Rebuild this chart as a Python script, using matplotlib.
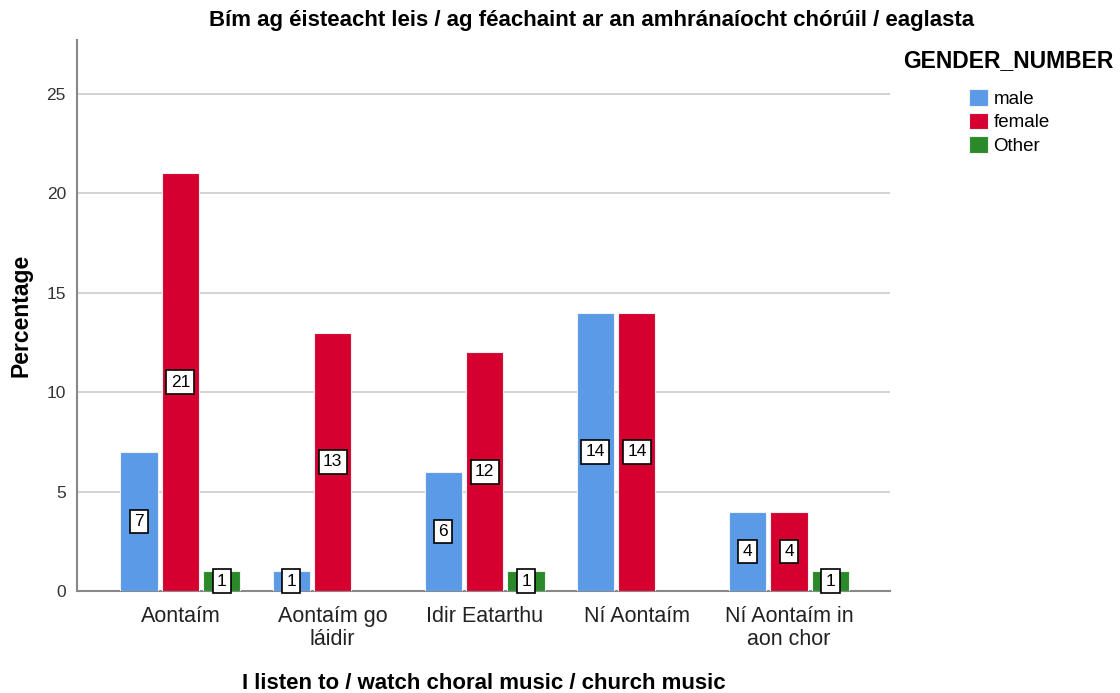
import numpy as np
import matplotlib
matplotlib.use('Agg')
import matplotlib.pyplot as plt

plt.rcParams['font.family'] = ['Liberation Sans', 'DejaVu Sans']

# Data
categories = ['Aontaím', 'Aontaím go\nláidir', 'Idir Eatarthu', 'Ní Aontaím', 'Ní Aontaím in\naon chor']
male = [7, 1, 6, 14, 4]
female = [21, 13, 12, 14, 4]
other = [1, 0, 1, 0, 1]
series_names = ['male', 'female', 'Other']
colors = ['#5a9ae6', '#d5002f', '#2a8a2a']

fig = plt.figure(figsize=(11.2, 6.93), dpi=100)
ax = fig.add_axes([0.06875, 0.147, 0.726, 0.795])

x = np.arange(len(categories))
width = 0.245
offsets = [-0.272, 0, 0.272]

handles = []
for vals, off, col, name in zip([male, female, other], offsets, colors, series_names):
    vals = np.array(vals, dtype=float)
    shown = np.where(vals > 0, vals, np.nan)
    bars = ax.bar(x + off, shown, width, color=col, edgecolor='#f0f0f0', linewidth=0.8, label=name, zorder=3)
    handles.append(bars)
    for xi, v in zip(x + off, vals):
        if v > 0:
            ax.text(xi, v / 2, f'{int(v)}', ha='center', va='center', fontsize=12.5, zorder=5,
                    bbox=dict(boxstyle='square,pad=0.25', facecolor='white', edgecolor='black', linewidth=1.2))

ax.set_xlim(-0.68, 4.665)
ax.set_ylim(0, 27.7)
ax.set_yticks([0, 5, 10, 15, 20, 25])
ax.yaxis.grid(True, color='#cccccc', linewidth=1.2, zorder=0)
ax.set_axisbelow(True)
ax.set_xticks(x)
ax.set_xticklabels(categories, fontsize=15.5, color='#222222', linespacing=1.1)
ax.tick_params(axis='both', length=0)
ax.tick_params(axis='y', labelsize=12.5, labelcolor='#333333', pad=8)
ax.tick_params(axis='x', pad=11)

for s in ['top', 'right']:
    ax.spines[s].set_visible(False)
for s in ['left', 'bottom']:
    ax.spines[s].set_color('#888888')
    ax.spines[s].set_linewidth(1.5)

fig.text(0.019, 0.545, 'Percentage', rotation=90, ha='center', va='center',
         fontsize=16.5, fontweight='bold')
fig.text(0.528, 0.971, 'Bím ag éisteacht leis / ag féachaint ar an amhránaíocht chórúil / eaglasta',
         ha='center', va='center', fontsize=16, fontweight='bold')
fig.text(0.432, 0.014, 'I listen to / watch choral music / church music', ha='center', va='center',
         fontsize=16, fontweight='bold')

fig.text(0.806, 0.912, 'GENDER_NUMBER', fontsize=16.5, fontweight='bold', va='center')
leg = fig.legend(handles=handles, labels=series_names, loc='upper left', bbox_to_anchor=(0.857, 0.885),
                 frameon=False, fontsize=13.5, handlelength=1.0, handleheight=1.0, handletextpad=0.3,
                 labelspacing=0.25, borderpad=0)

fig.savefig('out.png', dpi=100)
